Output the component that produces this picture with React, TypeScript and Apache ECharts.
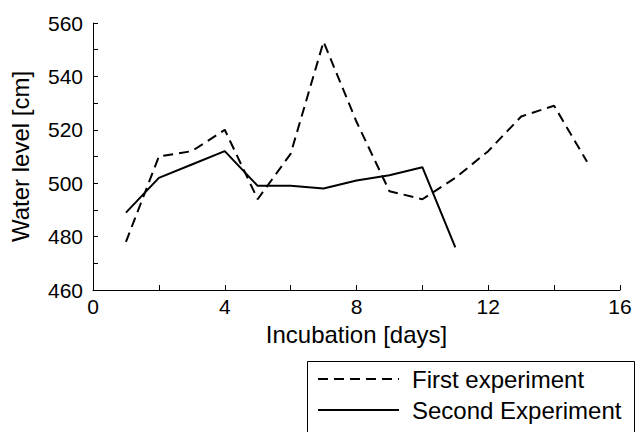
import React, { useEffect, useRef } from "react";
import * as echarts from "echarts";

const firstDays = [1, 2, 3, 4, 5, 6, 7, 8, 9, 10, 11, 12, 13, 14, 15];
const firstLevels = [478, 510, 512, 520, 494, 511, 553, 523, 497, 494, 502, 512, 525, 529, 508];
const secondDays = [1, 2, 3, 4, 5, 6, 7, 8, 9, 10, 11];
const secondLevels = [489, 502, 507, 512, 499, 499, 498, 501, 503, 506, 476];
const seriesNames = ["First experiment", "Second Experiment"];
const xTitle = "Incubation [days]";
const yTitle = "Water level [cm]";

const FONT = "'Liberation Sans', Arial, Helvetica, sans-serif";

export default function App() {
  const ref = useRef<HTMLDivElement>(null);
  useEffect(() => {
    const chart = echarts.init(ref.current!, null, { renderer: "svg" });
    const axisCommon = {
      axisLine: { show: true, lineStyle: { color: "#000", width: 1 } },
      axisTick: { show: true, inside: true, length: 5, lineStyle: { color: "#000" } },
      minorTick: { show: true, splitNumber: 2, length: 5, lineStyle: { color: "#000" } },
      splitLine: { show: false },
      minorSplitLine: { show: false },
      nameTextStyle: { fontSize: 24, color: "#000", fontFamily: FONT },
    };
    chart.setOption({
      animation: false,
      backgroundColor: "#fff",
      textStyle: { fontFamily: FONT },
      grid: { left: 92, right: 18, top: 23, bottom: 142, containLabel: false },
      graphic: [
        {
          type: "rect",
          shape: { x: 307.5, y: 361.5, width: 327, height: 90 },
          style: { fill: "none", stroke: "#000", lineWidth: 1 },
          silent: true,
          z: 0,
        },
      ],
      xAxis: {
        type: "value",
        min: 0,
        max: 16,
        interval: 4,
        ...axisCommon,
        axisLabel: { fontSize: 21, color: "#000", margin: 6, fontFamily: FONT },
        name: xTitle,
        nameLocation: "middle",
        nameGap: 32,
      },
      yAxis: {
        type: "value",
        min: 460,
        max: 560,
        interval: 20,
        ...axisCommon,
        axisLabel: { fontSize: 21, color: "#000", margin: 10, fontFamily: FONT },
        name: yTitle,
        nameLocation: "middle",
        nameGap: 61,
      },
      legend: {
        data: seriesNames,
        orient: "vertical",
        left: 307,
        top: 361,
        itemWidth: 81,
        itemHeight: 24,
        itemGap: 7,
        padding: [6, 11, 2, 10],
        align: "left",
        itemStyle: { opacity: 0 },
        textStyle: { fontSize: 24, color: "#000", fontFamily: FONT, padding: [0, 0, 0, 8] },
      },
      series: [
        {
          name: seriesNames[0],
          type: "line",
          data: firstDays.map((d, i) => [d, firstLevels[i]]),
          symbol: "none",
          lineStyle: { color: "#000", width: 2, type: [10, 6] },
          itemStyle: { color: "#000" },
        },
        {
          name: seriesNames[1],
          type: "line",
          data: secondDays.map((d, i) => [d, secondLevels[i]]),
          symbol: "none",
          lineStyle: { color: "#000", width: 2, type: "solid" },
          itemStyle: { color: "#000" },
        },
      ],
    });
    return () => chart.dispose();
  }, []);
  return (
    <div
      ref={ref}
      style={{ position: "fixed", left: 0, top: 0, width: 638, height: 432 }}
    />
  );
}
